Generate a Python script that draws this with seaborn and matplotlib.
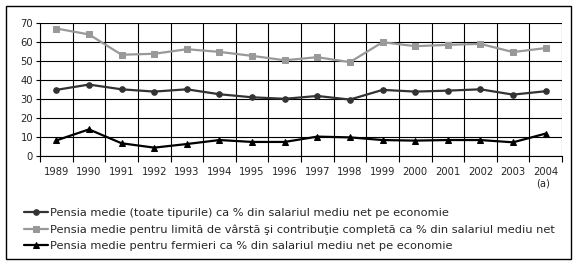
import matplotlib
matplotlib.use("Agg")
import matplotlib.pyplot as plt
import seaborn as sns
import pandas as pd
import numpy as np
from matplotlib.patches import Rectangle

years = ["1989", "1990", "1991", "1992", "1993", "1994", "1995", "1996",
         "1997", "1998", "1999", "2000", "2001", "2002", "2003", "2004"]
toate = [34.8, 37.6, 35.1, 33.9, 35.1, 32.5, 30.9, 30.1,
         31.6, 29.7, 34.8, 33.9, 34.4, 35.1, 32.3, 34.1]
limita = [67.1, 64.0, 53.3, 53.8, 56.2, 54.8, 52.7, 50.4,
          52.0, 49.4, 59.9, 57.8, 58.5, 59.0, 54.7, 56.8]
fermieri = [8.2, 14.0, 6.7, 4.4, 6.3, 8.4, 7.4, 7.4,
            10.2, 9.8, 8.4, 8.1, 8.4, 8.4, 7.2, 11.8]
labels = [
    "Pensia medie (toate tipurile) ca % din salariul mediu net pe economie",
    "Pensia medie pentru limită de vârstă şi contribuţie completă ca % din salariul mediu net",
    "Pensia medie pentru fermieri ca % din salariul mediu net pe economie",
]

sns.set_style("white")
plt.rcParams['font.family'] = ['DejaVu Sans']

fig = plt.figure(figsize=(5.76, 2.64), dpi=100)
ax = fig.add_axes([40/576, 1-156/264, 522/576, 133/264])

x = np.arange(len(years))
series = [(toate, "#333333", "o", 4), (limita, "#999999", "s", 5), (fermieri, "#000000", "^", 6)]
for (vals, col, mk, ms), lab in zip(series, labels):
    df = pd.DataFrame({"x": x, "y": vals})
    sns.lineplot(data=df, x="x", y="y", ax=ax, color=col, marker=mk, markersize=ms,
                 markeredgecolor=col, linewidth=1.6, label=lab, legend=False)

ax.set_xlim(-0.5, 15.5)
ax.set_ylim(0, 70)
ax.set_yticks(range(0, 71, 10))
ax.set_yticklabels([str(v) for v in range(0, 71, 10)], fontsize=7.2)
ax.set_xticks(x)
ax.set_xticklabels(years, fontsize=7.2)
ax.set_xticks(np.arange(-0.5, 16, 1), minor=True)
ax.tick_params(axis="x", which="major", length=0, pad=8)
ax.tick_params(axis="x", which="minor", length=4, width=0.8, color="black", direction="out", bottom=True)
ax.tick_params(axis="y", which="major", length=3, width=0.8, color="black", direction="out", left=True, pad=2)
ax.set_xlabel("")
ax.set_ylabel("")
ax.grid(True, axis="y", which="major", color="black", linewidth=0.8)
ax.grid(True, axis="x", which="minor", color="black", linewidth=0.8)
ax.grid(False, axis="x", which="major")
for s in ["top", "right"]:
    ax.spines[s].set_visible(False)
for s in ["left", "bottom"]:
    ax.spines[s].set_color("black")
    ax.spines[s].set_linewidth(0.8)

fig.text(543/576, 1-184/264, "(a)", fontsize=7.2, ha="center", va="center")

h, l = ax.get_legend_handles_labels()
for hh in h:
    hh.set_markersize(4)
leg = fig.legend(h, l, loc="upper left", bbox_to_anchor=(24/576, 1-208/264), frameon=False,
                 fontsize=8.2, handlelength=2.1, handletextpad=0.15, labelspacing=0.55,
                 borderpad=0, borderaxespad=0)

fig.patches.append(Rectangle((6/576, 5/264), 565/576, 253/264, transform=fig.transFigure,
                             fill=False, edgecolor="black", linewidth=1))

fig.savefig("out.png", dpi=100)
